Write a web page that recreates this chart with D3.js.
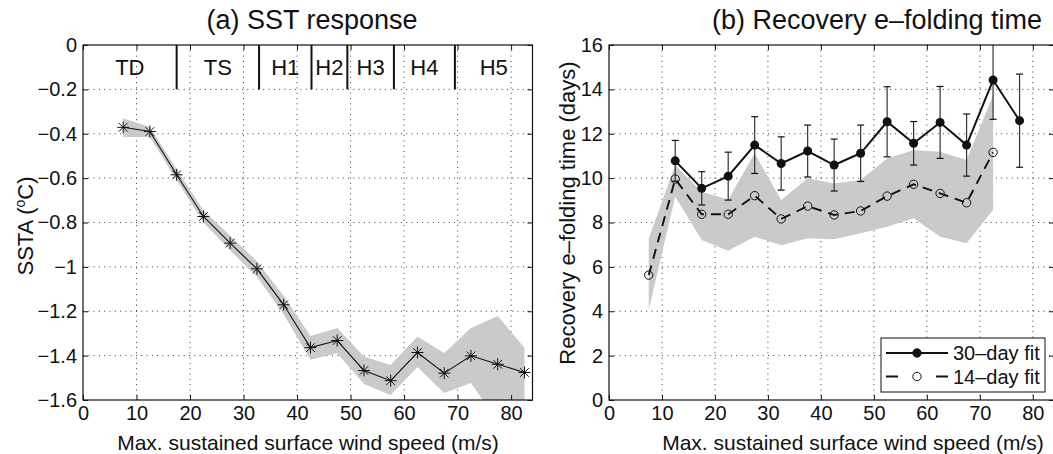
<!DOCTYPE html>
<html>
<head>
<meta charset="utf-8">
<script src="https://cdn.jsdelivr.net/npm/d3@7"></script>
<style>
  body { margin: 0; background: #fff; }
  svg { display: block; font-family: "Liberation Sans", Arial, sans-serif; }
</style>
</head>
<body>
<script>
// panel (a) data: SST anomaly vs wind speed bin
const windA = [7.5, 12.5, 17.5, 22.5, 27.5, 32.5, 37.5, 42.5, 47.5, 52.5, 57.5, 62.5, 67.5, 72.5, 77.5, 82.5];
const sstaMean = [-0.371, -0.39, -0.585, -0.773, -0.893, -1.009, -1.171, -1.364, -1.332, -1.467, -1.513, -1.386, -1.479, -1.401, -1.439, -1.476];
const sstaUpper = [-0.33, -0.37, -0.56, -0.745, -0.86, -0.975, -1.13, -1.311, -1.276, -1.404, -1.442, -1.314, -1.388, -1.276, -1.221, -1.365];
const sstaLower = [-0.415, -0.415, -0.61, -0.8, -0.925, -1.045, -1.215, -1.419, -1.389, -1.528, -1.577, -1.451, -1.568, -1.523, -1.7, -1.62];

// storm categories
const catBounds = [17.5, 32.9, 42.7, 49.4, 58.1, 69.5];
const catLabels = ["TD", "TS", "H1", "H2", "H3", "H4", "H5"];

// panel (b) data: e-folding times
const wind30 = [12.5, 17.5, 22.5, 27.5, 32.5, 37.5, 42.5, 47.5, 52.5, 57.5, 62.5, 67.5, 72.5, 77.5];
const fit30 = [10.78, 9.54, 10.09, 11.49, 10.66, 11.22, 10.59, 11.12, 12.54, 11.57, 12.51, 11.49, 14.42, 12.59];
const err30 = [0.92, 0.75, 1.08, 1.28, 1.2, 1.17, 1.17, 1.27, 1.58, 0.98, 1.62, 1.4, 1.77, 2.1];

const wind14 = [7.5, 12.5, 17.5, 22.5, 27.5, 32.5, 37.5, 42.5, 47.5, 52.5, 57.5, 62.5, 67.5, 72.5];
const fit14 = [5.63, 9.96, 8.37, 8.37, 9.21, 8.16, 8.74, 8.34, 8.52, 9.19, 9.72, 9.31, 8.89, 11.16];
const band14Upper = [7.28, 10.59, 9.39, 9.04, 11.12, 9.01, 10.0, 9.76, 9.91, 10.89, 11.27, 11.19, 10.82, 13.74];
const band14Lower = [4.06, 9.16, 7.21, 6.73, 7.36, 6.98, 7.29, 7.24, 7.51, 7.81, 8.19, 7.36, 7.06, 8.56];

const xTicks = [0, 10, 20, 30, 40, 50, 60, 70, 80];
const yTicksA = [0, -0.2, -0.4, -0.6, -0.8, -1, -1.2, -1.4, -1.6];
const yTicksB = [0, 2, 4, 6, 8, 10, 12, 14, 16];
const legendLabels = ["30\u2013day fit", "14\u2013day fit"];

const W = 1053, H = 454;
const plotTop = 45, plotBottom = 400;
const bandFill = "#c9cacc";

const svg = d3.select("body").append("svg").attr("width", W).attr("height", H);

const xA = d3.scaleLinear().domain([0, 84]).range([83, 532.5]);
const yA = d3.scaleLinear().domain([-1.6, 0]).range([plotBottom, plotTop]);
const xB = d3.scaleLinear().domain([0, 84]).range([609, 1054]);
const yB = d3.scaleLinear().domain([0, 16]).range([plotBottom, plotTop]);

const fmtNum = v => (v === 0 ? "0" : String(+v.toFixed(1)).replace("-", "\u2212"));

function frame(x, y, yTicks, id) {
  const [x0, x1] = x.range();
  const g = svg.append("g");
  svg.append("clipPath").attr("id", id)
    .append("rect").attr("x", x0).attr("y", plotTop).attr("width", x1 - x0).attr("height", plotBottom - plotTop);

  // dotted grid
  const grid = g.append("g").attr("stroke", "#222").attr("stroke-width", 0.9)
    .attr("stroke-dasharray", "1,4.3");
  grid.selectAll("line.v").data(xTicks.filter(d => d > 0 && d < 84)).join("line")
    .attr("x1", d => x(d)).attr("x2", d => x(d)).attr("y1", plotTop).attr("y2", plotBottom);
  const yd = y.domain();
  grid.selectAll("line.h").data(yTicks.filter(d => d > yd[0] && d < yd[1])).join("line")
    .attr("x1", x0).attr("x2", x1).attr("y1", d => y(d)).attr("y2", d => y(d));
  return g;
}

function axes(x, y, yTicks) {
  const [x0, x1] = x.range();
  const ax = svg.append("g");
  ax.append("g").attr("transform", `translate(0,${plotBottom})`)
    .call(d3.axisBottom(x).tickValues(xTicks).tickSize(-5).tickPadding(6).tickFormat(fmtNum));
  ax.append("g").attr("transform", `translate(0,${plotTop})`)
    .call(d3.axisTop(x).tickValues(xTicks).tickSize(-5).tickFormat(""));
  ax.append("g").attr("transform", `translate(${x0},0)`)
    .call(d3.axisLeft(y).tickValues(yTicks).tickSize(-5).tickPadding(6).tickFormat(fmtNum));
  ax.append("g").attr("transform", `translate(${x1},0)`)
    .call(d3.axisRight(y).tickValues(yTicks).tickSize(-5).tickFormat(""));
  ax.selectAll(".domain").remove();
  ax.selectAll(".tick line").attr("stroke", "#111");
  ax.selectAll("text").attr("fill", "#111").style("font-family", "inherit").style("font-size", "20px");
  svg.append("rect").attr("x", x0).attr("y", plotTop).attr("width", x1 - x0).attr("height", plotBottom - plotTop)
    .attr("fill", "none").attr("stroke", "#111").attr("stroke-width", 1.2);
}

// ---------- panel (a) ----------
frame(xA, yA, yTicksA, "clipA");
const pa = svg.append("g").attr("clip-path", "url(#clipA)");

const areaA = d3.area().x((d, i) => xA(windA[i])).y0((d, i) => yA(sstaLower[i])).y1(d => yA(d));
pa.append("path").datum(sstaUpper).attr("d", areaA).attr("fill", bandFill);

pa.append("path").datum(sstaMean)
  .attr("d", d3.line().x((d, i) => xA(windA[i])).y(d => yA(d)))
  .attr("fill", "none").attr("stroke", "#111").attr("stroke-width", 1.1);

const s = 6, a = s * 0.72;
const star = `M${-s},0L${s},0M0,${-s}L0,${s}M${-a},${-a}L${a},${a}M${-a},${a}L${a},${-a}`;
pa.selectAll("path.star").data(sstaMean).join("path").attr("class", "star")
  .attr("transform", (d, i) => `translate(${xA(windA[i])},${yA(d)})`)
  .attr("d", star).attr("stroke", "#111").attr("stroke-width", 1).attr("fill", "none");

// category separators and labels
const catY = yA(-0.2);
svg.append("g").selectAll("line").data(catBounds).join("line")
  .attr("x1", d => xA(d)).attr("x2", d => xA(d)).attr("y1", plotTop).attr("y2", catY)
  .attr("stroke", "#111").attr("stroke-width", 2);
const catEdges = [0, ...catBounds, 84];
svg.append("g").selectAll("text").data(catLabels).join("text")
  .attr("x", (d, i) => xA((catEdges[i] + catEdges[i + 1]) / 2))
  .attr("y", 75).attr("text-anchor", "middle").style("font-size", "22px").attr("fill", "#111")
  .text(d => d);

axes(xA, yA, yTicksA);

svg.append("text").attr("x", 312).attr("y", 29).attr("text-anchor", "middle")
  .style("font-size", "27px").attr("fill", "#111").text("(a) SST response");
svg.append("text").attr("x", 308).attr("y", 450).attr("text-anchor", "middle")
  .style("font-size", "21px").attr("fill", "#111").text("Max. sustained surface wind speed (m/s)");
const yla = svg.append("text").attr("transform", "translate(33,226) rotate(-90)")
  .attr("text-anchor", "middle").style("font-size", "22px").attr("fill", "#111");
yla.append("tspan").text("SSTA (");
yla.append("tspan").attr("dy", -8).style("font-size", "14px").text("o");
yla.append("tspan").attr("dy", 8).text("C)");

// ---------- panel (b) ----------
frame(xB, yB, yTicksB, "clipB");
const pb = svg.append("g").attr("clip-path", "url(#clipB)");

const areaB = d3.area().x((d, i) => xB(wind14[i])).y0((d, i) => yB(band14Lower[i])).y1(d => yB(d));
pb.append("path").datum(band14Upper).attr("d", areaB).attr("fill", bandFill);

// error bars for 30-day fit
const eb = pb.append("g").attr("stroke", "#333").attr("stroke-width", 1.2);
eb.selectAll("line.bar").data(fit30).join("line").attr("class", "bar")
  .attr("x1", (d, i) => xB(wind30[i])).attr("x2", (d, i) => xB(wind30[i]))
  .attr("y1", (d, i) => yB(d - err30[i])).attr("y2", (d, i) => yB(d + err30[i]));
eb.selectAll("line.capT").data(fit30).join("line").attr("class", "capT")
  .attr("x1", (d, i) => xB(wind30[i]) - 3.5).attr("x2", (d, i) => xB(wind30[i]) + 3.5)
  .attr("y1", (d, i) => yB(d + err30[i])).attr("y2", (d, i) => yB(d + err30[i])).attr("stroke", "#111");
eb.selectAll("line.capB").data(fit30).join("line").attr("class", "capB")
  .attr("x1", (d, i) => xB(wind30[i]) - 3.5).attr("x2", (d, i) => xB(wind30[i]) + 3.5)
  .attr("y1", (d, i) => yB(d - err30[i])).attr("y2", (d, i) => yB(d - err30[i])).attr("stroke", "#111");

// 14-day fit: dashed with open circles
pb.append("path").datum(fit14)
  .attr("d", d3.line().x((d, i) => xB(wind14[i])).y(d => yB(d)))
  .attr("fill", "none").attr("stroke", "#111").attr("stroke-width", 1.9).attr("stroke-dasharray", "10,7");
pb.selectAll("circle.o").data(fit14).join("circle").attr("class", "o")
  .attr("cx", (d, i) => xB(wind14[i])).attr("cy", d => yB(d)).attr("r", 4.2)
  .attr("fill", "none").attr("stroke", "#111").attr("stroke-width", 1);

// 30-day fit: solid with filled dots
pb.append("path").datum(fit30)
  .attr("d", d3.line().x((d, i) => xB(wind30[i])).y(d => yB(d)))
  .attr("fill", "none").attr("stroke", "#111").attr("stroke-width", 2);
pb.selectAll("circle.f").data(fit30).join("circle").attr("class", "f")
  .attr("cx", (d, i) => xB(wind30[i])).attr("cy", d => yB(d)).attr("r", 4.5).attr("fill", "#111");

axes(xB, yB, yTicksB);

svg.append("text").attr("x", 877).attr("y", 29).attr("text-anchor", "middle")
  .style("font-size", "27px").attr("fill", "#111").text("(b) Recovery e\u2013folding time");
svg.append("text").attr("x", 853).attr("y", 450).attr("text-anchor", "middle")
  .style("font-size", "21px").attr("fill", "#111").text("Max. sustained surface wind speed (m/s)");
svg.append("text").attr("transform", "translate(575,213) rotate(-90)")
  .attr("text-anchor", "middle").style("font-size", "22px").attr("fill", "#111")
  .text("Recovery e\u2013folding time (days)");

// legend
const lg = svg.append("g");
lg.append("rect").attr("x", 881).attr("y", 338).attr("width", 164).attr("height", 54)
  .attr("fill", "#fff").attr("stroke", "#111").attr("stroke-width", 1);
const rows = lg.selectAll("g.row").data(legendLabels).join("g").attr("class", "row")
  .attr("transform", (d, i) => `translate(0,${353 + i * 23.5})`);
rows.append("line").attr("x1", 886).attr("x2", 948).attr("stroke", "#111").attr("stroke-width", 2)
  .attr("stroke-dasharray", (d, i) => (i === 0 ? null : "12,38"));
rows.append("circle").attr("cx", 917).attr("r", 4.2)
  .attr("fill", (d, i) => (i === 0 ? "#111" : "none")).attr("stroke", "#111").attr("stroke-width", 1);
rows.append("text").attr("x", 953).attr("y", 7).style("font-size", "20px").attr("fill", "#111").text(d => d);
</script>
</body>
</html>
